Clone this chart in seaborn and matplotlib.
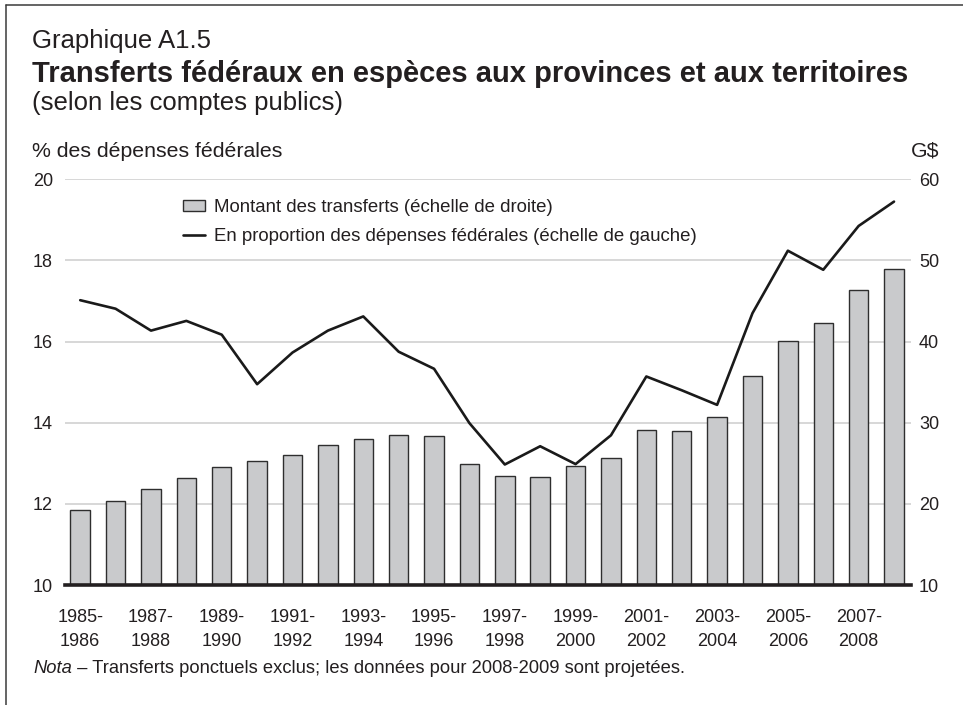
import numpy as np
import pandas as pd
import matplotlib
matplotlib.use("Agg")
import matplotlib.pyplot as plt
from matplotlib.lines import Line2D
from matplotlib.patches import Patch
import seaborn as sns

# Exercices financiers
annees = [f"{y}-{y + 1}" for y in range(1985, 2009)]
# Montant des transferts en espèces (G$)
montants = [19.2, 20.4, 21.8, 23.2, 24.6, 25.3, 26.0, 27.2, 28.0, 28.5, 28.4, 24.9,
            23.4, 23.3, 24.7, 25.6, 29.1, 29.0, 30.7, 35.7, 40.1, 42.3, 46.4, 49.0]
# En proportion des dépenses fédérales (%)
proportions = [17.02, 16.81, 16.27, 16.51, 16.17, 14.95, 15.73, 16.27, 16.62, 15.75,
               15.33, 13.99, 12.97, 13.42, 12.98, 13.69, 15.14, 14.80, 14.44, 16.70,
               18.24, 17.77, 18.85, 19.45]
etiquettes_x = [f"{y}-\n{y + 1}" for y in range(1985, 2009, 2)]
ticks_gauche = [10, 12, 14, 16, 18, 20]
ticks_droite = [10, 20, 30, 40, 50, 60]

df = pd.DataFrame({"annee": annees, "montant": montants, "pct": proportions})
df["pos"] = np.arange(len(df))

sns.set_theme(style="white")
plt.rcParams["font.family"] = ["Liberation Sans", "DejaVu Sans"]
TXT = "#231f20"

W, H = 963, 705
fig = plt.figure(figsize=(W / 100, H / 100), dpi=100)
fig.patch.set_facecolor("white")


def fx(x):
    return x / W


def fy(y):
    return 1 - y / H


left, right, top, bottom = 65, 911, 179.3, 585
ax = fig.add_axes([fx(left), fy(bottom), (right - left) / W, (bottom - top) / H])
ax2 = ax.twinx()

# Barres : montant (échelle de droite)
sns.barplot(data=df, x="annee", y="montant", ax=ax2, color="#c9cacc",
            edgecolor="#2e2e2e", linewidth=1.0, width=0.55, saturation=1)
ax2.set_ylim(10, 60)
ax2.set_yticks(ticks_droite)
ax2.set_yticklabels([str(t) for t in ticks_droite])
ax2.yaxis.grid(True, color="#cdcdcd", linewidth=1.1)
ax2.set_axisbelow(True)
ax2.set_ylabel("")
ax2.set_xlabel("")

# Ligne : proportion des dépenses fédérales (échelle de gauche)
sns.lineplot(data=df, x="pos", y="pct", ax=ax, color="#1a1a1a", linewidth=1.9)
ax.set_ylim(10, 20)
ax.set_yticks(ticks_gauche)
ax.set_yticklabels([str(t) for t in ticks_gauche])
ax.set_xlim(-0.43, 23.48)
ax.set_xticks(range(0, len(annees), 2))
ax.set_xticklabels(etiquettes_x, linespacing=1.5)
ax.set_xlabel("")
ax.set_ylabel("")
ax.grid(False)

ax.set_zorder(ax2.get_zorder() + 1)
ax.patch.set_visible(False)

for s in ["top", "left", "right"]:
    ax.spines[s].set_visible(False)
for s in ax2.spines.values():
    s.set_visible(False)
ax.spines["bottom"].set_color(TXT)
ax.spines["bottom"].set_linewidth(2.6)

ax.tick_params(axis="y", length=0, pad=8.6, labelsize=13, labelcolor=TXT)
ax.tick_params(axis="x", length=0, pad=17.5, labelsize=13, labelcolor=TXT)
ax2.tick_params(axis="y", length=0, pad=5.8, labelsize=13, labelcolor=TXT)

# Légende
handles = [Patch(facecolor="#c9cacc", edgecolor="#2e2e2e", linewidth=1.0),
           Line2D([0], [0], color="#1a1a1a", linewidth=1.9)]
labels = ["Montant des transferts (échelle de droite)",
          "En proportion des dépenses fédérales (échelle de gauche)"]
fig.legend(handles, labels, loc="center left", bbox_to_anchor=(fx(183), fy(222)),
           frameon=False, fontsize=13.4, handlelength=1.2, handleheight=0.5,
           handletextpad=0.45, labelspacing=0.65, borderpad=0, borderaxespad=0,
           labelcolor=TXT)

# Titres et notes
fig.text(fx(32), fy(48.3), "Graphique A1.5", fontsize=18.5, color=TXT, va="baseline")
fig.text(fx(32), fy(82), "Transferts fédéraux en espèces aux provinces et aux territoires",
         fontsize=21, fontweight="bold", color=TXT, va="baseline")
fig.text(fx(32), fy(110), "(selon les comptes publics)", fontsize=18.5, color=TXT,
         va="baseline")
fig.text(fx(32), fy(156.7), "% des dépenses fédérales", fontsize=15.3, color=TXT,
         va="baseline")
fig.text(fx(939), fy(156.7), "G$", fontsize=15.3, color=TXT, va="baseline", ha="right")

t1 = fig.text(fx(33), fy(673), "Nota", fontsize=13.2, style="italic", color=TXT,
              va="baseline")
fig.canvas.draw()
bb = t1.get_window_extent()
fig.text(bb.x1 / W, fy(673),
         " – Transferts ponctuels exclus; les données pour 2008-2009 sont projetées.",
         fontsize=13.2, color=TXT, va="baseline")

# Cadre
fig.add_artist(Line2D([fx(6), 1], [fy(5), fy(5)], color="#3a3a3a", linewidth=1.1,
                      transform=fig.transFigure))
fig.add_artist(Line2D([fx(6), fx(6)], [fy(5), 0], color="#3a3a3a", linewidth=1.1,
                      transform=fig.transFigure))

fig.savefig("out.png", dpi=100, facecolor="white")
